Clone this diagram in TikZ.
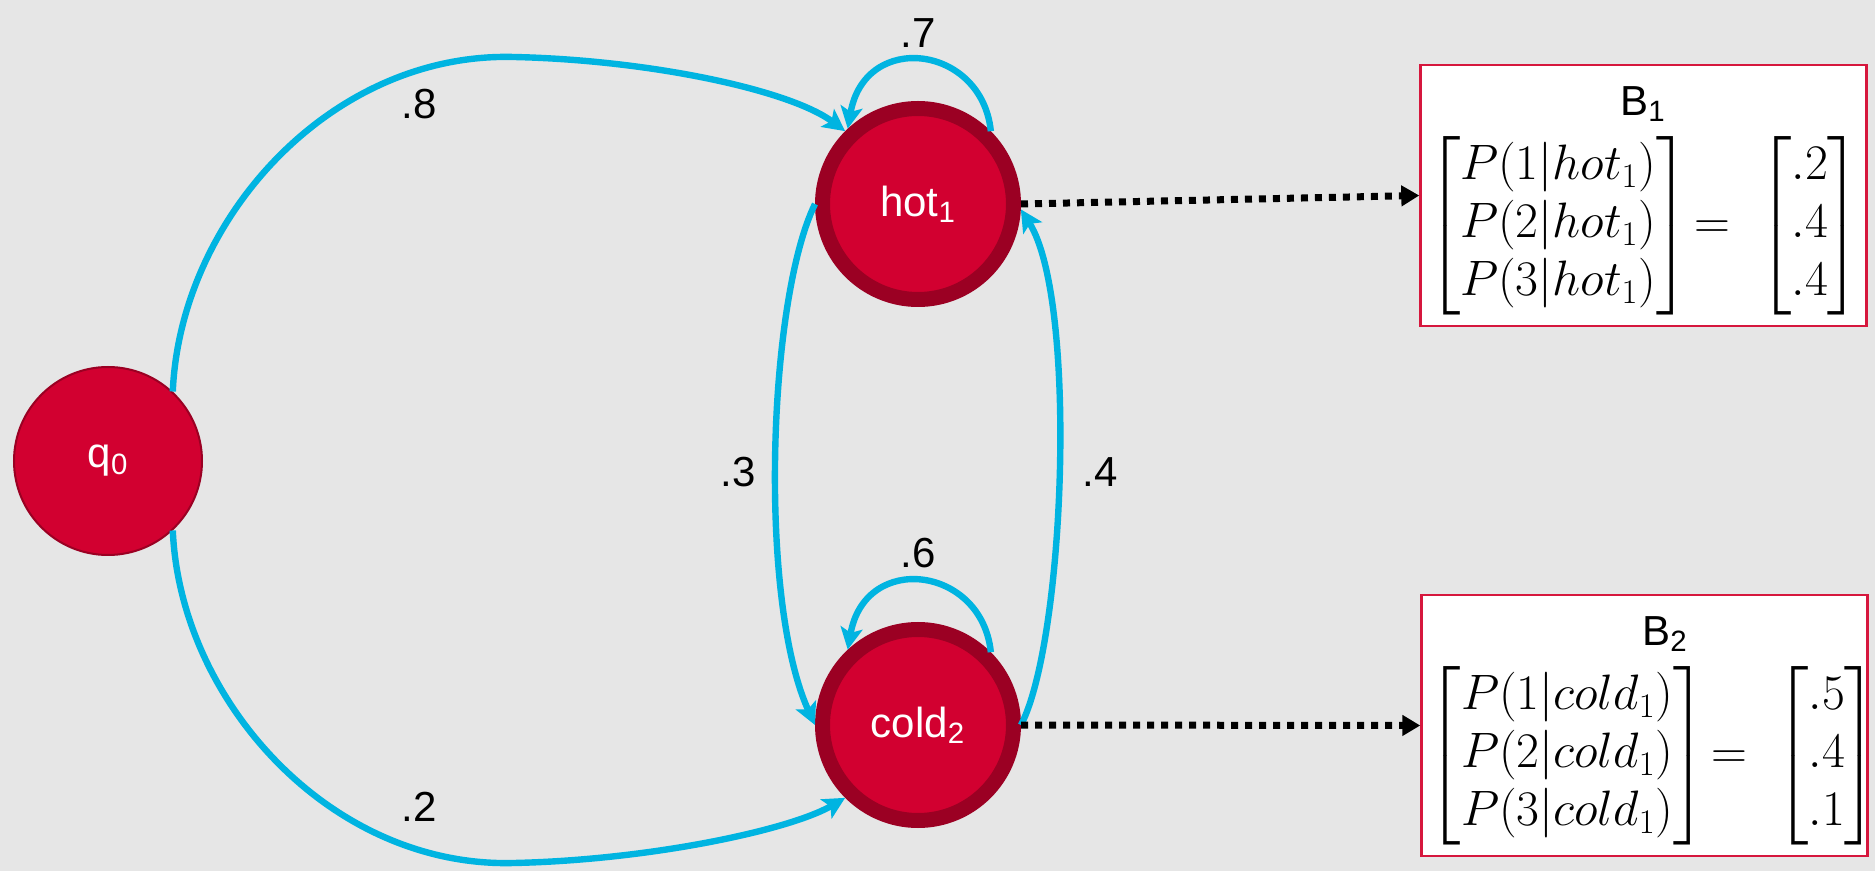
\documentclass[tikz,border=0pt]{standalone}
\usepackage{amsmath}
\usepackage{fontspec}
\setmainfont{Liberation Sans}
\usetikzlibrary{arrows.meta}
\definecolor{bg}{HTML}{E6E6E6}
\definecolor{sred}{HTML}{D20030}
\definecolor{dred}{HTML}{9B0023}
\definecolor{arcblue}{HTML}{00B4E1}
\definecolor{boxred}{HTML}{D6173D}
\tikzset{
  state/.style={circle, fill=sred, draw=dred, line width=7.5pt, minimum size=95.5pt, inner sep=0pt, text=white, font=\fontsize{21}{25}\selectfont},
  startstate/.style={circle, fill=sred, draw=dred, line width=1pt, minimum size=94pt, inner sep=0pt, text=white, font=\fontsize{21}{25}\selectfont},
  arc/.style={draw=arcblue, line width=3.2pt, -{Stealth[length=11pt,width=11pt,inset=2.5pt]}},
  emit/.style={draw=black, line width=3.5pt, dash pattern=on 3.5pt off 3.5pt, -{Triangle[length=9pt,width=10pt]}, shorten >=0pt},
  bbox/.style={rectangle, draw=boxred, line width=1.2pt, fill=white, minimum width=223pt, minimum height=130.5pt, inner sep=0pt},
  lbl/.style={font=\fontsize{21}{25}\selectfont, text=black},
  mtx/.style={font=\fontsize{23}{29}\selectfont, text=black, inner sep=0pt}
}
\begin{document}
\begin{tikzpicture}[x=0.5pt, y=-0.5pt]
\fill[bg] (0,0) rectangle (1875,871);
\useasboundingbox (0,0) rectangle (1875,871);

\node[startstate] (q0) at (108,461) {q\textsubscript{0}};
\node[state] (hot) at (918,204) {hot\textsubscript{1}};
\node[state] (cold) at (918,725) {cold\textsubscript{2}};

\node[bbox] (b1) at (1643.5,195.5) {};
\node[bbox] (b2) at (1644.5,725.5) {};

\node[lbl] (b1t) at (1643,104) {B\textsubscript{1}};
\node[mtx] (b1m) at (1644,226) {$\begin{bmatrix}P(1|hot_1)\\ P(2|hot_1)\\ P(3|hot_1)\end{bmatrix}\!=\;\begin{bmatrix}.2\\ .4\\ .4\end{bmatrix}$};
\node[lbl] (b2t) at (1665,634) {B\textsubscript{2}};
\node[mtx] (b2m) at (1653,756) {$\begin{bmatrix}P(1|cold_1)\\ P(2|cold_1)\\ P(3|cold_1)\end{bmatrix}\!=\;\begin{bmatrix}.5\\ .4\\ .1\end{bmatrix}$};

% transitions
\draw[arc] (q0.47) .. controls (180,220) and (330,52) .. (514,57) .. controls (650,60) and (790,90) .. (hot.135);
\draw[arc] (q0.-47) .. controls (180,700) and (330,868) .. (514,863) .. controls (650,860) and (790,830) .. (cold.225);
\draw[arc] (hot.45) .. controls (982,45) and (865,30) .. (hot.133);
\draw[arc] (cold.45) .. controls (982,566) and (865,551) .. (cold.133);
\draw[arc] (hot.180) .. controls (768,300) and (758,600) .. (cold.180);
\draw[arc] (cold.0) .. controls (1065,640) and (1078,300) .. (hot.-3);

\draw[emit] (hot.east) -- (b1.west);
\draw[emit] (cold.east) -- (b2.west);

\node[lbl] (l8) at (419,104) {.8};
\node[lbl] (l2) at (419,807) {.2};
\node[lbl] (l7) at (918,33) {.7};
\node[lbl] (l6) at (918,553) {.6};
\node[lbl] (l3) at (738,472) {.3};
\node[lbl] (l4) at (1100,472) {.4};
\end{tikzpicture}
\end{document}
